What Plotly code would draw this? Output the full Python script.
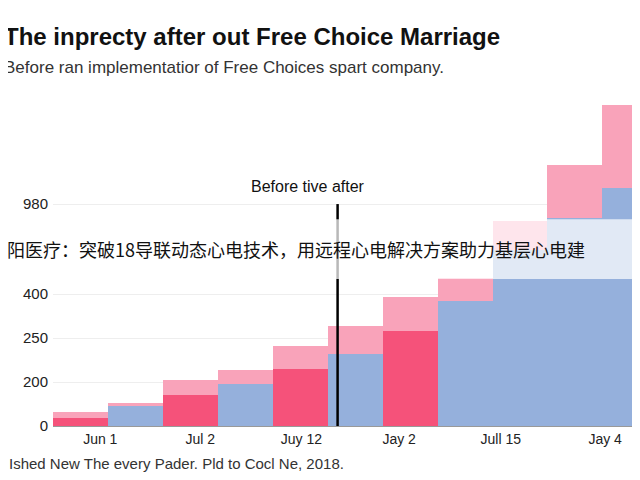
import plotly.graph_objects as go

idx = list(range(11))
base_vals = [18, 45, 70, 95, 130, 164, 216, 284, 400, 473, 541]
base_kind = ["before", "after", "before", "after", "before", "after", "before", "after", "after", "after", "after"]
top_vals = [14, 7, 35, 32, 52, 63, 77, 52, 66, 120, 189]
tick_pos = [0.36, 2.18, 4.02, 5.8, 7.65, 9.55]
tick_text = ["Jun 1", "Jul 2", "Juy 12", "Jay 2", "Jull 15", "Jay 4"]
y_tick_pos = [0, 100, 200, 300, 505]
y_tick_text = ["0", "200", "250", "400", "980"]

PINK, LIGHT, BLUE = "#f5527a", "#f9a3ba", "#95b0dc"
fig = go.Figure()
fig.add_bar(x=idx, y=base_vals, width=1,
            marker=dict(color=[PINK if k == "before" else BLUE for k in base_kind], line_width=0))
fig.add_bar(x=idx, y=top_vals, width=1, marker=dict(color=LIGHT, line_width=0))
fig.update_layout(
    barmode="stack", showlegend=False, width=640, height=480,
    margin=dict(l=45, r=0, t=95, b=62),
    plot_bgcolor="white", paper_bgcolor="white",
    font=dict(family="Liberation Sans", color="#222"),
    xaxis=dict(range=[-0.5, 10.33], tickvals=tick_pos, ticktext=tick_text, automargin=False,
               showgrid=False, tickfont=dict(size=14), showline=True, linecolor="#999"),
    yaxis=dict(range=[0, 735], tickvals=y_tick_pos, ticktext=y_tick_text, automargin=False,
               gridcolor="#eeeeee", tickfont=dict(size=15), zeroline=False, ticklabelstandoff=4),
    shapes=[
        dict(type="line", xref="x", yref="y", x0=4.68, x1=4.68, y0=0, y1=505,
             line=dict(color="black", width=2.5)),
        dict(type="rect", xref="paper", yref="paper", x0=-0.1, x1=1, y0=0.455, y1=0.64,
             fillcolor="rgba(255,255,255,0.72)", line_width=0, layer="above"),
    ],
    annotations=[
        dict(text="<b>The inprecty after out Free Choice Marriage</b>", xref="paper", yref="paper",
             x=-0.085, y=1.255, xanchor="left", showarrow=False, font=dict(size=24, color="#111")),
        dict(text="Before ran implementatior of Free Choices spart company.", xref="paper", yref="paper",
             x=-0.085, y=1.145, xanchor="left", showarrow=False, font=dict(size=17, color="#333")),
        dict(text="Before tive after", xref="x", yref="y", x=4.15, y=545, showarrow=False,
             font=dict(size=16, color="#111")),
        dict(text="阳医疗：突破18导联动态心电技术，用远程心电解决方案助力基层心电建", xref="paper", yref="paper",
             x=-0.08, y=0.548, xanchor="left", showarrow=False,
             font=dict(size=18, color="#111", family="Noto Sans CJK SC")),
        dict(text="Ished New The every Pader. Pld to Cocl Ne, 2018.", xref="paper", yref="paper",
             x=-0.078, y=-0.15, xanchor="left", showarrow=False, font=dict(size=15, color="#333")),
    ],
)
fig.write_html("out.html")
